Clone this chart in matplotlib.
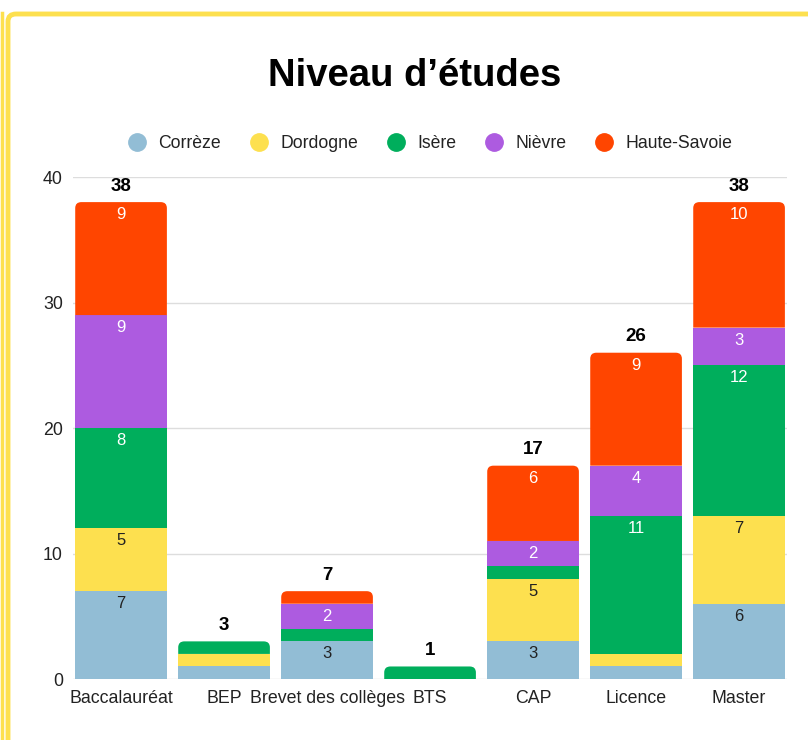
import matplotlib.pyplot as plt
import numpy as np
from matplotlib.patches import FancyBboxPatch, PathPatch
from matplotlib.path import Path
from matplotlib.lines import Line2D

plt.rcParams['font.family'] = ['Liberation Sans', 'DejaVu Sans']

categories = ["Baccalauréat", "BEP", "Brevet des collèges", "BTS", "CAP", "Licence", "Master"]
series = ["Corrèze", "Dordogne", "Isère", "Nièvre", "Haute-Savoie"]
correze = [7, 1, 3, 0, 3, 1, 6]
dordogne = [5, 1, 0, 0, 5, 1, 7]
isere = [8, 1, 1, 1, 1, 11, 12]
nievre = [9, 0, 2, 0, 2, 4, 3]
haute_savoie = [9, 0, 1, 0, 6, 9, 10]

colors = ["#92BDD5", "#FDE04F", "#00AE5C", "#AD5BE0", "#FF4500"]
label_colors = ["#222222", "#222222", "white", "white", "white"]


def rounded_top(xc, b, h, w, rx=0.06, ry=0.48):
    x0, x1, top = xc - w / 2, xc + w / 2, b + h
    verts = [(x0, b), (x0, top - ry), (x0, top), (x0 + rx, top),
             (x1 - rx, top), (x1, top), (x1, top - ry), (x1, b), (x0, b)]
    codes = [Path.MOVETO, Path.LINETO, Path.CURVE3, Path.CURVE3,
             Path.LINETO, Path.CURVE3, Path.CURVE3, Path.LINETO, Path.CLOSEPOLY]
    return Path(verts, codes)


fig = plt.figure(figsize=(8.08, 7.40), dpi=100)
ax = fig.add_axes([0.0899, 0.0824, 0.8847, 0.6784])

width = 0.89
x = np.arange(len(categories))
data = [correze, dordogne, isere, nievre, haute_savoie]
totals = np.sum(np.array(data, dtype=float), axis=0)
bottom = np.zeros(len(categories))
for name, vals, col, lc in zip(series, data, colors, label_colors):
    vals = np.array(vals, dtype=float)
    for xi, v, b, tot in zip(x, vals, bottom, totals):
        if v == 0:
            continue
        if b + v == tot:
            ax.add_patch(PathPatch(rounded_top(xi, b, v, width), facecolor=col,
                                   edgecolor="none", zorder=3))
        else:
            ax.bar(xi, v, bottom=b, width=width, color=col, zorder=3)
        if v >= 2:
            ax.text(xi, b + v - 0.4, f"{int(v)}", ha="center", va="top",
                    color=lc, fontsize=12, zorder=4)
    bottom += vals

for xi, tot in zip(x, totals):
    ax.text(xi, tot + 0.6, f"{int(tot)}", ha="center", va="bottom",
            fontsize=13.5, fontweight="bold", color="black")

ax.set_xlim(-0.47, 6.47)
ax.set_ylim(0, 40)
ax.set_yticks([0, 10, 20, 30, 40])
ax.set_xticks(x)
ax.set_xticklabels(categories)
ax.tick_params(axis="both", length=0, labelsize=12.8, colors="#222222")
ax.tick_params(axis="x", pad=8)
ax.tick_params(axis="y", pad=7)
ax.grid(axis="y", color="#DDDDDD", linewidth=1, zorder=0)
for s in ax.spines.values():
    s.set_visible(False)

fig.text(0.513, 0.897, "Niveau d’études", ha="center", va="center",
         fontsize=27.5, fontweight="bold")

handles = [Line2D([], [], marker="o", linestyle="", markersize=12.5,
                  markerfacecolor=c, markeredgecolor=c) for c in colors]
fig.legend(handles, series, loc="center", bbox_to_anchor=(0.527, 0.806),
           ncol=5, frameon=False, fontsize=12.7, handletextpad=0.2,
           columnspacing=1.15, labelcolor="#222222")

# yellow frame
frame = FancyBboxPatch((8 / 808, -0.1), 1.2, (740 - 14) / 740 + 0.1,
                       boxstyle="round,pad=0,rounding_size=0.01",
                       transform=fig.transFigure, fill=False,
                       edgecolor="#FDE04F", linewidth=3.5, clip_on=False)
fig.patches.append(frame)
fig.lines.append(Line2D([2 / 808, 2 / 808], [0, (740 - 13) / 740],
                        transform=fig.transFigure, color="#FDE04F", linewidth=2.5))

fig.savefig("out.png", dpi=100)
